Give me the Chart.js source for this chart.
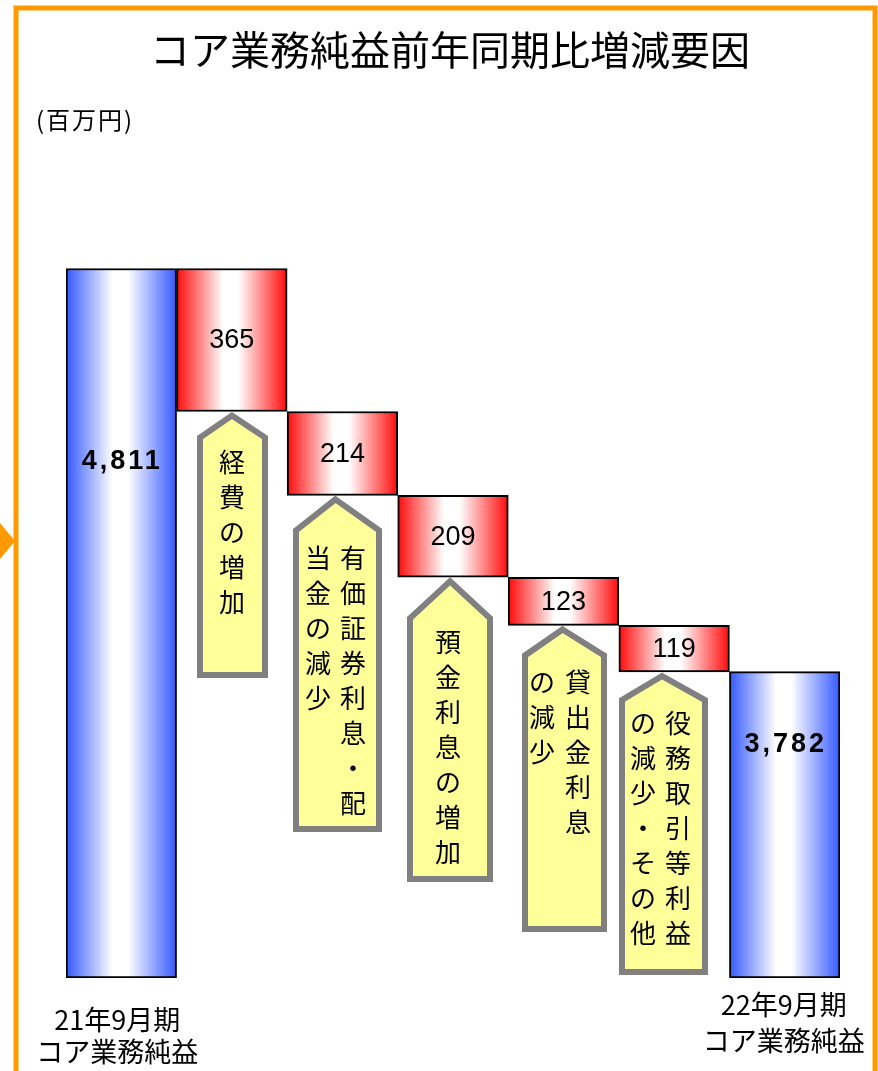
<!DOCTYPE HTML>
<html>
<head>
  <meta charset="utf-8">
  <title>コア業務純益前年同期比増減要因</title>
  <script src="https://cdn.jsdelivr.net/npm/chart.js"></script>
  <style>
    body { margin:0; background:#ffffff; }
    canvas { display:block; }
  </style>
</head>
<body>
  <canvas id="waterfallChart" width="878" height="1071"></canvas>
  <script type="text/javascript">

    // ---- data (百万円) ----
    var xvarLabels   = ["21年9月期 コア業務純益", "経費の増加", "有価証券利息・配当金の減少", "預金利息の増加",
                        "貸出金利息の減少", "役務取引等利益の減少・その他", "22年9月期 コア業務純益"];
    var startValue   = 4811;
    var endValue     = 3782;
    var yvarChange   = [-365, -214, -209, -123, -119];
    var axisMin      = 3000;   // the picture cuts the axis here
    var axisMax      = 5000;
    var totalLines   = [["21年9月期", "コア業務純益"], ["22年9月期", "コア業務純益"]];
    // vertical callout text, right column first
    var calloutCols  = [["経費の増加"], ["有価証券利息・配", "当金の減少"], ["預金利息の増加"],
                        ["貸出金利息", "の減少"], ["役務取引等利益", "の減少・その他"]];
    var chartTitle   = "コア業務純益前年同期比増減要因";
    var unitLabel    = "(百万円)";

    // floating bars built from the values above
    var barRanges = [[axisMin, startValue]];
    var barValues = [startValue];
    var running = startValue;
    for (let i = 0; i < yvarChange.length; i++) {
      barRanges.push([running + yvarChange[i], running]);
      barValues.push(Math.abs(yvarChange[i]));
      running += yvarChange[i];
    }
    barRanges.push([axisMin, endValue]);
    barValues.push(endValue);
    var lastIndex = barRanges.length - 1;

    // ---- styles ----
    var colors = { frame: '#FF9900', blue: '#3358ff', red: '#ff0a0a', callFill: '#FFFF99', callLine: '#808080' };
    var jpFont = '"Noto Sans CJK JP", "Noto Sans", sans-serif';
    var numFont = '"Liberation Sans", Arial, sans-serif';
    var totalLabelY = [462, 745];
    var totalTextPos = [{ dx: -4, y: [1020, 1052] }, { dx: -1, y: [1005, 1041] }];
    var callStyle = [
      { dx: 0,   left: 197, right: 268, depth: 26, bottom: 678, cols: [232],      firstY: 462 },
      { dx: -7,  left: 293, right: 382, depth: 35, bottom: 832, cols: [353, 318], firstY: 558 },
      { dx: -3,  left: 407, right: 493, depth: 41, bottom: 882, cols: [448],      firstY: 642 },
      { dx: -1,  left: 522, right: 607, depth: 30, bottom: 932, cols: [578, 542], firstY: 682 },
      { dx: -12, left: 619, right: 708, depth: 28, bottom: 975, cols: [678, 643], firstY: 723 }
    ];
    var rowPitch = 35;

    function barGradient(context) {
      var chart = context.chart;
      var isTotal = context.dataIndex === 0 || context.dataIndex === lastIndex;
      var c = isTotal ? colors.blue : colors.red;
      if (!chart.chartArea) return c;
      var xs = chart.scales.x;
      var cx = xs.getPixelForValue(context.dataIndex);
      var w = xs.width / xvarLabels.length;
      var g = chart.ctx.createLinearGradient(cx - w / 2, 0, cx + w / 2, 0);
      g.addColorStop(0, c);
      g.addColorStop(0.42, '#ffffff');
      g.addColorStop(0.56, '#ffffff');
      g.addColorStop(1, c);
      return g;
    }

    function formatNum(v) {
      return v.toLocaleString('en-US');
    }

    var decorPlugin = {
      id: 'decor',
      beforeDraw: function (chart) {
        var ctx = chart.ctx;
        ctx.save();
        ctx.fillStyle = '#ffffff';
        ctx.fillRect(0, 0, chart.width, chart.height);
        // orange frame + side arrow
        ctx.strokeStyle = colors.frame;
        ctx.lineWidth = 5;
        ctx.strokeRect(16, 8, 859, 1120);
        ctx.fillStyle = colors.frame;
        ctx.beginPath();
        ctx.moveTo(0, 523);
        ctx.lineTo(15, 541);
        ctx.lineTo(0, 559);
        ctx.closePath();
        ctx.fill();
        // title and unit
        ctx.fillStyle = '#000000';
        ctx.textBaseline = 'middle';
        ctx.textAlign = 'center';
        ctx.font = '40px ' + jpFont;
        ctx.fillText(chartTitle, 450, 50);
        ctx.textAlign = 'left';
        ctx.font = '24px ' + jpFont;
        ctx.letterSpacing = '2px';
        ctx.fillText(unitLabel, 36, 120);
        ctx.letterSpacing = '0px';
        ctx.restore();
      },
      afterDatasetsDraw: function (chart) {
        var ctx = chart.ctx;
        var xs = chart.scales.x, ys = chart.scales.y;
        ctx.save();
        ctx.textAlign = 'center';
        ctx.textBaseline = 'middle';

        // callouts under each change bar
        for (let i = 0; i < callStyle.length; i++) {
          var s = callStyle[i];
          var idx = i + 1;
          var tipX = xs.getPixelForValue(idx) + s.dx;
          var tipY = ys.getPixelForValue(barRanges[idx][0]);
          var h = 3;
          ctx.beginPath();
          ctx.moveTo(tipX, tipY + 4);
          ctx.lineTo(s.right - h, tipY + s.depth);
          ctx.lineTo(s.right - h, s.bottom - h);
          ctx.lineTo(s.left + h, s.bottom - h);
          ctx.lineTo(s.left + h, tipY + s.depth);
          ctx.closePath();
          ctx.fillStyle = colors.callFill;
          ctx.fill();
          ctx.lineWidth = 6;
          ctx.lineJoin = 'miter';
          ctx.strokeStyle = colors.callLine;
          ctx.stroke();

          ctx.fillStyle = '#000000';
          ctx.font = '26px ' + jpFont;
          var cols = calloutCols[i];
          for (let c = 0; c < cols.length; c++) {
            var chars = Array.from(cols[c]);
            for (let r = 0; r < chars.length; r++) {
              ctx.fillText(chars[r], s.cols[c], s.firstY + r * rowPitch);
            }
          }
        }

        // value labels
        ctx.fillStyle = '#000000';
        for (let i = 0; i < barValues.length; i++) {
          var x = xs.getPixelForValue(i);
          if (i === 0 || i === lastIndex) {
            ctx.font = 'bold 27px ' + numFont;
            ctx.letterSpacing = '3px';
            ctx.fillText(formatNum(barValues[i]), x + 1, totalLabelY[i === 0 ? 0 : 1]);
            ctx.letterSpacing = '0px';
          } else {
            ctx.font = '27px ' + numFont;
            var mid = (ys.getPixelForValue(barRanges[i][0]) + ys.getPixelForValue(barRanges[i][1])) / 2;
            ctx.fillText(formatNum(barValues[i]), x, mid + 1);
          }
        }

        // category names under the two total bars
        ctx.font = '27px ' + jpFont;
        var ends = [0, lastIndex];
        for (let k = 0; k < ends.length; k++) {
          var px = xs.getPixelForValue(ends[k]) + totalTextPos[k].dx;
          for (let l = 0; l < totalLines[k].length; l++) {
            ctx.fillText(totalLines[k][l], px, totalTextPos[k].y[l]);
          }
        }
        ctx.restore();
      }
    };

    var ctx_main = document.getElementById('waterfallChart');
    var chartMain = new Chart(ctx_main, {
      type: 'bar',
      data: {
        labels: xvarLabels,
        datasets: [{
          data: barRanges,
          backgroundColor: barGradient,
          borderColor: '#000000',
          borderWidth: 2,
          borderSkipped: false,
          barPercentage: 1.0,
          categoryPercentage: 1.0
        }]
      },
      options: {
        responsive: false,
        animation: false,
        layout: { padding: { left: 66, right: 38, top: 194.5, bottom: 93 } },
        scales: {
          x: { display: false },
          y: { display: false, min: axisMin, max: axisMax }
        },
        plugins: {
          legend: { display: false },
          tooltip: { enabled: false },
          title: { display: false }
        }
      },
      plugins: [decorPlugin]
    });
  </script>
</body>
</html>
